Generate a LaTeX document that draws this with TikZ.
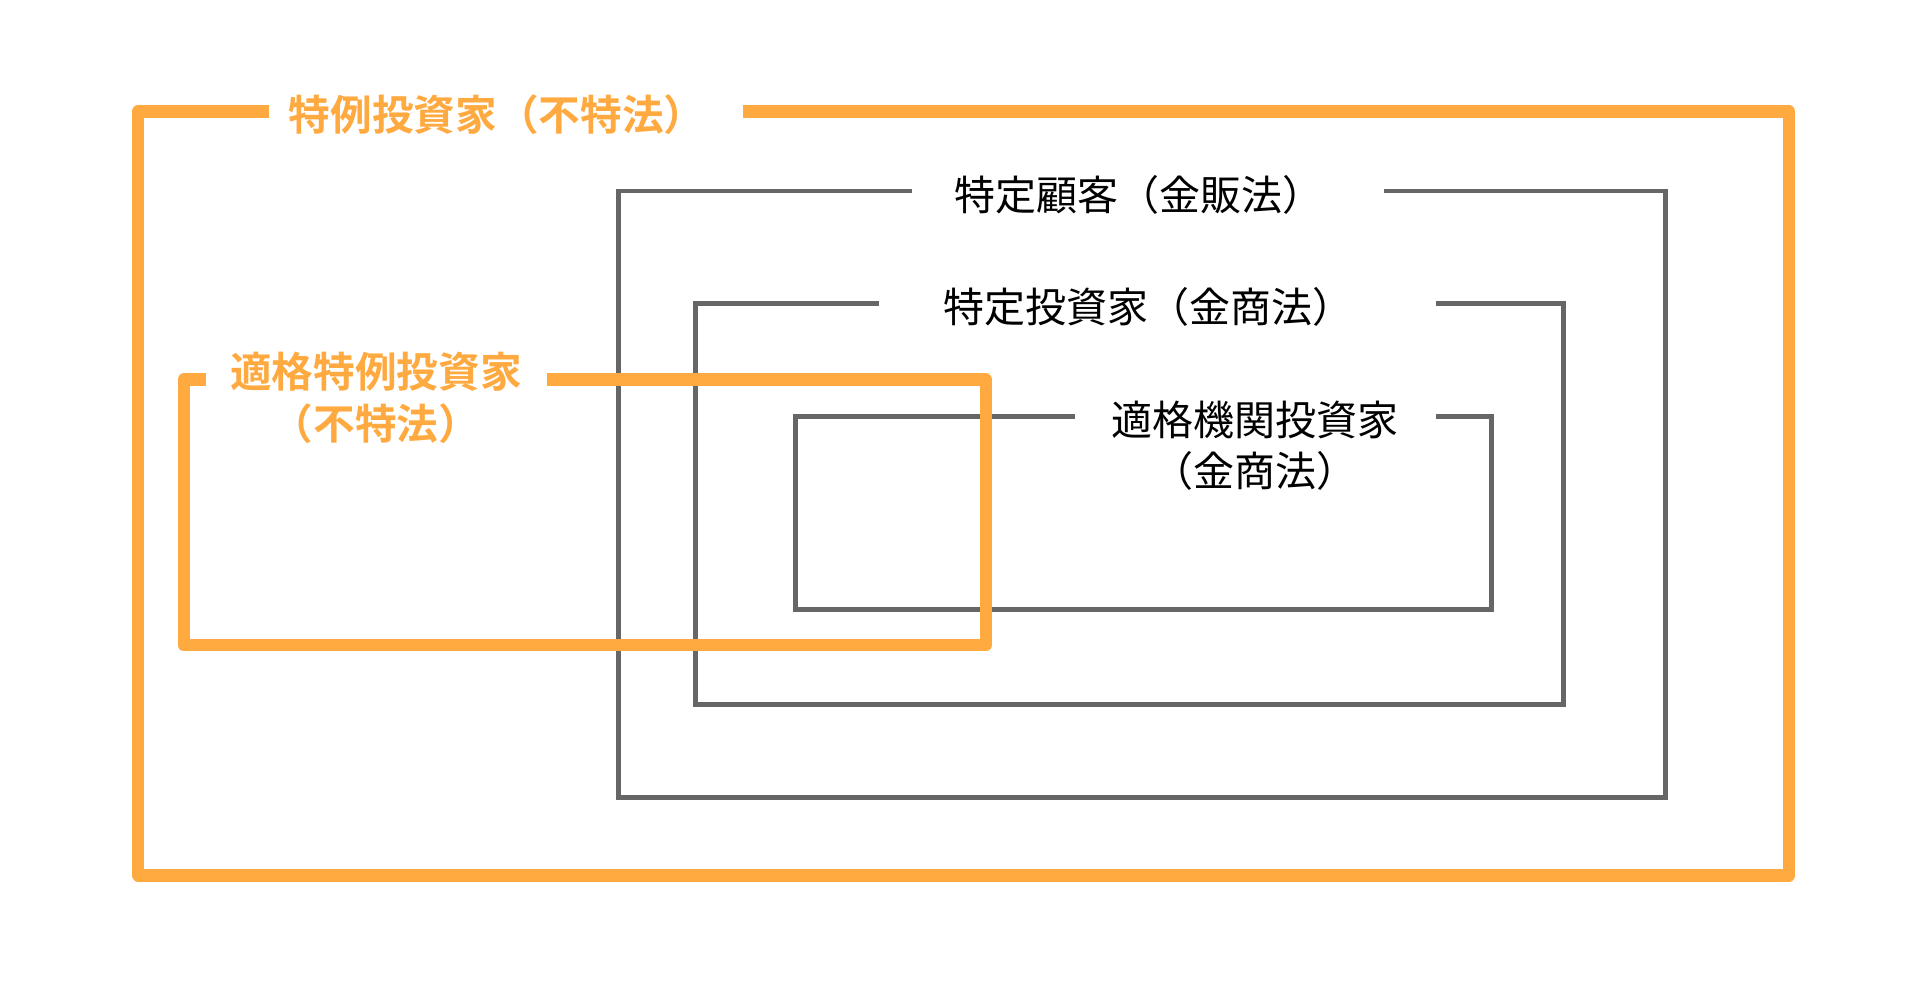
\documentclass[tikz,border=0pt]{standalone}
\usepackage{fontspec}
\newfontfamily\cjk{Noto Sans CJK JP}
\newfontfamily\cjkb{Noto Sans CJK JP Bold}
\definecolor{org}{HTML}{FFAA40}
\definecolor{gry}{HTML}{666666}
\begin{document}
\begin{tikzpicture}[x=1pt,y=-1pt,
  obox/.style={draw=org,line width=10pt,line join=round,line cap=butt},
  gbox/.style={draw=gry,line width=4pt,line join=miter},
  olab/.style={text=org,font=\cjkb\fontsize{34}{42}\selectfont,align=center,inner sep=0},
  glab/.style={text=black,font=\cjk\fontsize{33.5}{41}\selectfont,align=center,inner sep=0}]
\useasboundingbox (0,0) rectangle (1568,821);
% outer orange
\coordinate (o1) at (220,91); \coordinate (o2) at (607,91);
\draw[obox] (o1) -- (113,91) -- (113,715) -- (1461,715) -- (1461,91) -- (o2);
\node[olab] (ot) at (406,94) {特例投資家（不特法）};
% gray 1
\coordinate (a1) at (745,156); \coordinate (a2) at (1130,156);
\draw[gbox] (a1) -- (505,156) -- (505,651) -- (1360,651) -- (1360,156) -- (a2);
\node[glab] (at) at (930,159) {特定顧客（金販法）};
% gray 2
\coordinate (b1) at (718,248); \coordinate (b2) at (1173,248);
\draw[gbox] (b1) -- (568,248) -- (568,575) -- (1277,575) -- (1277,248) -- (b2);
\node[glab] (bt) at (938,251) {特定投資家（金商法）};
% gray 3
\coordinate (c1) at (878,340); \coordinate (c2) at (1173,340);
\draw[gbox] (c1) -- (650,340) -- (650,498) -- (1218,498) -- (1218,340) -- (c2);
\node[glab] (ct) at (1025,364) {適格機関投資家\\（金商法）};
% inner orange
\coordinate (d1) at (168,310); \coordinate (d2) at (447,310);
\draw[obox] (d1) -- (150,310) -- (150,527) -- (805,527) -- (805,310) -- (d2);
\node[olab] (dt) at (307,325) {適格特例投資家\\（不特法）};
\end{tikzpicture}
\end{document}
